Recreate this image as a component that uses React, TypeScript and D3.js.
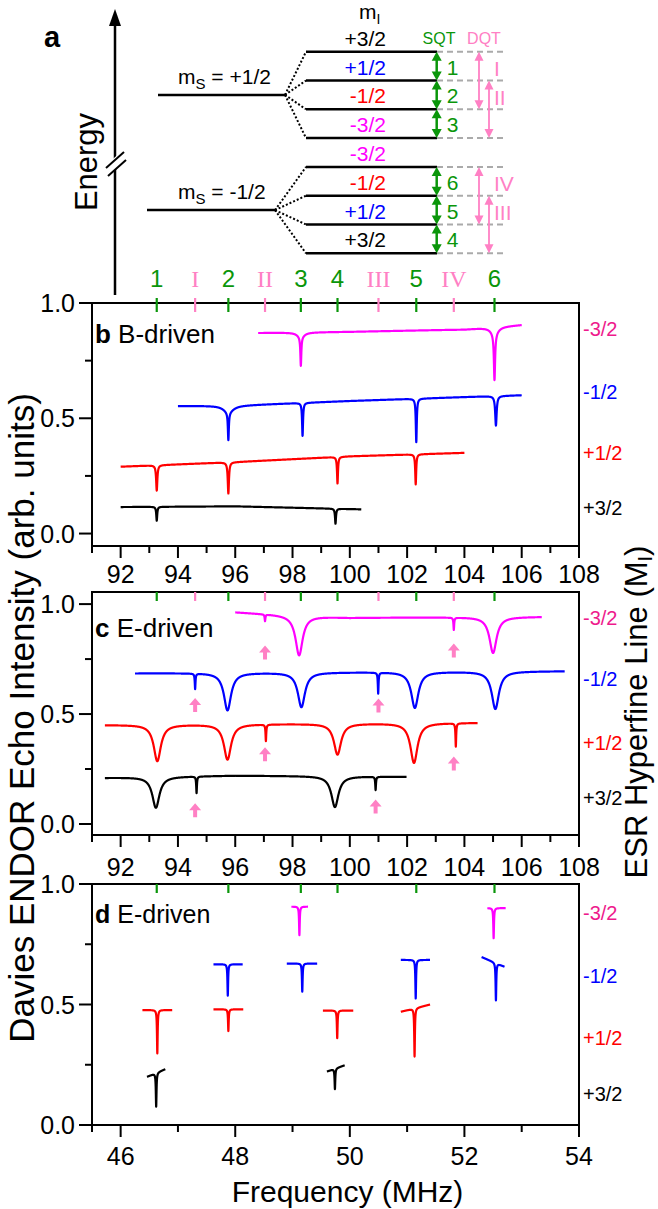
import React from "react";
import * as d3 from "d3";

const W = 658;
const H = 1209;
const FONT = "'Liberation Sans', Arial, Helvetica, sans-serif";
const SERIF = "'Liberation Serif', 'Times New Roman', serif";

// ---------- categories / labels ----------
const MI_ORDER = ["+3/2", "+1/2", "-1/2", "-3/2"];
const MI_COLOR: Record<string, string> = { "+3/2": "#000000", "+1/2": "#ff0000", "-1/2": "#0000ff", "-3/2": "#ff00ff" };
const SIDE_COLOR: Record<string, string> = { "+3/2": "#000000", "+1/2": "#ff0000", "-1/2": "#0000ff", "-3/2": "#ee1a8c" };
const LEVEL_COLOR: Record<string, string> = { "+3/2": "#000000", "+1/2": "#0000ff", "-1/2": "#ff0000", "-3/2": "#ff00ff" };

const SQT_FREQS = [93.26, 95.76, 98.29, 99.57, 102.32, 105.05];
const SQT_LABELS = ["1", "2", "3", "4", "5", "6"];
const DQT_FREQS = [94.6, 97.04, 101.0, 103.63];
const DQT_LABELS = ["I", "II", "III", "IV"];

const Y_MAJOR = [0, 0.5, 1.0];
const Y_MINOR = [0.25, 0.75];
const X_MAJOR_HI = [92, 94, 96, 98, 100, 102, 104, 106, 108];
const X_MINOR_HI = [91, 93, 95, 97, 99, 101, 103, 105, 107];
const X_MAJOR_LO = [46, 48, 50, 52, 54];
const X_MINOR_LO = [45.5, 47, 49, 51, 53];

// ---------- panel b (B-driven): baseline points [MHz, value], dips [centre, depth, hwhm] ----------
const B_P32_BASE = [[92.0, 0.115], [96.0, 0.118], [100.4, 0.105]];
const B_P32_DIPS = [[93.26, 0.06, 0.02], [99.5, 0.065, 0.02]];
const B_P12_BASE = [[92.0, 0.29], [94.0, 0.3], [96.0, 0.31], [100.0, 0.335], [104.0, 0.35]];
const B_P12_DIPS = [[93.26, 0.11, 0.025], [95.76, 0.135, 0.025], [99.57, 0.115, 0.02], [102.3, 0.13, 0.02]];
const B_M12_BASE = [[94.0, 0.553], [96.0, 0.555], [100.0, 0.575], [104.0, 0.592], [106.0, 0.6]];
const B_M12_DIPS = [[95.76, 0.12, 0.02], [95.76, 0.03, 0.2], [98.35, 0.143, 0.02], [102.32, 0.188, 0.02], [105.1, 0.128, 0.03]];
const B_M32_BASE = [[96.8, 0.87], [100.0, 0.875], [104.0, 0.885], [106.0, 0.905]];
const B_M32_DIPS = [[98.29, 0.125, 0.02], [98.29, 0.02, 0.15], [105.05, 0.2, 0.025], [105.05, 0.03, 0.15]];

// ---------- panel c (E-driven) ----------
const C_P32_BASE = [[91.45, 0.21], [96.0, 0.22], [101.98, 0.215]];
const C_P32_DIPS = [[93.23, 0.14, 0.15], [94.65, 0.075, 0.015], [99.48, 0.14, 0.15], [100.9, 0.06, 0.015]];
const C_P12_BASE = [[91.45, 0.45], [98.0, 0.455], [104.46, 0.46]];
const C_P12_DIPS = [[93.28, 0.165, 0.15], [95.73, 0.16, 0.15], [97.07, 0.075, 0.015], [99.57, 0.14, 0.15], [102.24, 0.18, 0.15], [103.7, 0.105, 0.015]];
const C_M12_BASE = [[92.5, 0.685], [100.0, 0.69], [107.5, 0.695]];
const C_M12_DIPS = [[94.6, 0.07, 0.015], [95.73, 0.17, 0.15], [98.31, 0.157, 0.15], [100.99, 0.095, 0.015], [102.27, 0.163, 0.15], [105.08, 0.17, 0.15]];
const C_M32_BASE = [[96.0, 0.963], [98.0, 0.948], [100.0, 0.938], [104.0, 0.94], [106.7, 0.942]];
const C_M32_DIPS = [[97.04, 0.03, 0.015], [98.23, 0.18, 0.15], [103.63, 0.055, 0.015], [105.0, 0.163, 0.15]];
const C_ARROW_FREQ = [97.04, 103.63, 94.6, 101.0, 97.04, 103.63, 94.6, 100.9];
const C_ARROW_Y = [0.78, 0.789, 0.541, 0.539, 0.317, 0.275, 0.062, 0.08];

// ---------- panel d (E-driven, half frequency): segments [start, end, baseStart, baseEnd] ----------
const D_P32_SEGS = [[46.46, 46.78, 0.2, 0.232], [49.6, 49.91, 0.222, 0.248]];
const D_P32_DIPS = [[46.62, 0.14, 0.007], [49.74, 0.085, 0.007]];
const D_P12_SEGS = [[46.38, 46.9, 0.477, 0.477], [47.62, 48.14, 0.48, 0.48], [49.53, 50.06, 0.475, 0.475], [50.89, 51.4, 0.47, 0.5]];
const D_P12_DIPS = [[46.64, 0.18, 0.007], [47.88, 0.09, 0.007], [49.78, 0.115, 0.007], [51.13, 0.2, 0.007]];
const D_M12_SEGS = [[47.62, 48.13, 0.667, 0.667], [48.9, 49.43, 0.67, 0.67], [50.89, 51.4, 0.685, 0.685], [52.3, 52.7, 0.697, 0.657]];
const D_M12_DIPS = [[47.87, 0.13, 0.007], [49.17, 0.117, 0.007], [51.15, 0.16, 0.007], [52.55, 0.155, 0.007]];
const D_M32_SEGS = [[48.98, 49.27, 0.906, 0.906], [52.4, 52.72, 0.9, 0.9]];
const D_M32_DIPS = [[49.12, 0.118, 0.007], [52.51, 0.125, 0.007]];

// side label heights (data units) in MI_ORDER
const B_SIDE_Y = [0.11, 0.35, 0.614, 0.89];
const C_SIDE_Y = [0.12, 0.37, 0.66, 0.937];
const D_SIDE_Y = [0.13, 0.36, 0.62, 0.88];

// panel a level diagram
const UPPER_MI = ["+3/2", "+1/2", "-1/2", "-3/2"];
const LOWER_MI = ["-3/2", "-1/2", "+1/2", "+3/2"];
const SQT_PAIRS = [[0, 1], [1, 2], [2, 3], [4, 5], [5, 6], [6, 7]];
const SQT_PAIR_LABELS = ["1", "2", "3", "6", "5", "4"];
const DQT_PAIRS = [[0, 2], [1, 3], [4, 6], [5, 7]];
const DQT_PAIR_LABELS = ["I", "II", "IV", "III"];

const GREEN = "#0a960a";
const PINK = "#ff80c4";

// ---------- scales ----------
const xHi = d3.scaleLinear().domain([91, 108]).range([92, 579]);
const xLo = d3.scaleLinear().domain([45.5, 54]).range([92, 579]);
const yB = d3.scaleLinear().domain([-0.054, 1]).range([546, 303]);
const yC = d3.scaleLinear().domain([-0.05, 1.055]).range([835, 592]);
const yD = d3.scaleLinear().domain([0, 1]).range([1125, 884]);
const levelY = d3.scaleLinear().domain([0, 7]).range([51.7, 253.3]);

function spectrum(base: number[][], dips: number[][], step: number): [number, number][] {
  const x0 = base[0][0];
  const x1 = base[base.length - 1][0];
  const baseAt = d3.scaleLinear().domain(base.map((p) => p[0])).range(base.map((p) => p[1]));
  const xs = d3.range(x0, x1, step).concat([x1]).concat(dips.map((d) => d[0]).filter((c) => c > x0 && c < x1));
  xs.sort((a, b) => a - b);
  return xs.map((x) => {
    let v = baseAt(x);
    for (const [c, depth, hw] of dips) v -= (depth * hw * hw) / ((x - c) * (x - c) + hw * hw);
    return [x, v] as [number, number];
  });
}

function segSpectra(segs: number[][], dips: number[][], step: number): [number, number][][] {
  return segs.map(([s, e, b0, b1]) => {
    const inside = dips.filter((d) => d[0] >= s && d[0] <= e);
    return spectrum([[s, b0], [e, b1]], inside, step);
  });
}

function Frame({ x, y, xMajor, xMinor, showXLabels, labelDy }: any) {
  const [x0, x1] = x.range();
  const [yb, yt] = y.range();
  return (
    <g>
      <rect x={x0} y={yt} width={x1 - x0} height={yb - yt} fill="none" stroke="#000" strokeWidth={2} />
      {Y_MAJOR.map((v) => (
        <g key={"ym" + v}>
          <line x1={x0 - 13} x2={x0} y1={y(v)} y2={y(v)} stroke="#000" strokeWidth={2} />
          <text x={x0 - 17} y={y(v)} dy="0.36em" textAnchor="end" fontSize={25}>{d3.format(".1f")(v)}</text>
        </g>
      ))}
      {Y_MINOR.map((v) => (
        <line key={"yn" + v} x1={x0 - 7} x2={x0} y1={y(v)} y2={y(v)} stroke="#000" strokeWidth={2} />
      ))}
      {xMajor.map((v: number) => (
        <g key={"xm" + v}>
          <line x1={x(v)} x2={x(v)} y1={yb} y2={yb + 12} stroke="#000" strokeWidth={2} />
          {showXLabels && (
            <text x={x(v)} y={yb + labelDy} textAnchor="middle" fontSize={25}>{v}</text>
          )}
        </g>
      ))}
      {xMinor.map((v: number) => (
        <line key={"xn" + v} x1={x(v)} x2={x(v)} y1={yb} y2={yb + 7} stroke="#000" strokeWidth={2} />
      ))}
    </g>
  );
}

function Traces({ x, y, series, sw }: any) {
  const line = d3.line<[number, number]>().x((d) => x(d[0])).y((d) => y(d[1]));
  return (
    <g>
      {series.map((s: any, i: number) => (
        <path key={i} d={line(s.pts) || ""} fill="none" stroke={MI_COLOR[s.mi]} strokeWidth={sw} strokeLinejoin="round" />
      ))}
    </g>
  );
}

function SideLabels({ y, vals }: any) {
  return (
    <g>
      {MI_ORDER.map((mi, i) => (
        <text key={mi} x={583} y={y(vals[i])} dy="0.36em" fontSize={20} fill={SIDE_COLOR[mi]}>{mi}</text>
      ))}
    </g>
  );
}

function TransitionTicks({ yTop, y1, y2, sqtOnly }: any) {
  return (
    <g>
      {SQT_FREQS.map((f) => (
        <line key={"s" + f} x1={xHi(f)} x2={xHi(f)} y1={yTop + y1} y2={yTop + y2} stroke={GREEN} strokeWidth={2.2} />
      ))}
      {!sqtOnly &&
        DQT_FREQS.map((f) => (
          <line key={"d" + f} x1={xHi(f)} x2={xHi(f)} y1={yTop + y1} y2={yTop + y2} stroke={PINK} strokeWidth={2.2} />
        ))}
    </g>
  );
}

function vArrow(xc: number, ya: number, yb: number, hl: number, hw: number, color: string, sw: number, key: string) {
  return (
    <g key={key}>
      <line x1={xc} x2={xc} y1={ya + hl - 1} y2={yb - hl + 1} stroke={color} strokeWidth={sw} />
      <path d={`M${xc},${ya} L${xc - hw},${ya + hl} L${xc + hw},${ya + hl} Z`} fill={color} />
      <path d={`M${xc},${yb} L${xc - hw},${yb - hl} L${xc + hw},${yb - hl} Z`} fill={color} />
    </g>
  );
}

function PanelA() {
  const upperMsY = (levelY(0) + levelY(3)) / 2;
  const lowerMsY = (levelY(4) + levelY(7)) / 2;
  const lvlX0 = 306;
  const lvlX1 = 437;
  const dashX1 = 507;
  return (
    <g>
      <text x={44} y={47} fontSize={29} fontWeight="bold">a</text>
      {/* energy axis */}
      <line x1={115} x2={115} y1={22} y2={295} stroke="#000" strokeWidth={2.5} />
      <path d="M115,9 L109,26 L121,26 Z" fill="#000" />
      <polygon points="105,166 123,150 127,159 109,175" fill="#fff" />
      <line x1={106} y1={168} x2={124} y2={152} stroke="#000" strokeWidth={2} />
      <line x1={108} y1={176} x2={126} y2={160} stroke="#000" strokeWidth={2} />
      <text transform="translate(97,162) rotate(-90)" textAnchor="middle" fontSize={31}>Energy</text>

      {/* electron levels */}
      <line x1={158} x2={285} y1={upperMsY} y2={upperMsY} stroke="#000" strokeWidth={2.5} />
      <line x1={147} x2={275} y1={lowerMsY} y2={lowerMsY} stroke="#000" strokeWidth={2.5} />
      <text x={178} y={84} fontSize={21}>
        m<tspan dy={5} fontSize={15}>S</tspan>
        <tspan dy={-5}> = +1/2</tspan>
      </text>
      <text x={178} y={199} fontSize={21}>
        m<tspan dy={5} fontSize={15}>S</tspan>
        <tspan dy={-5}> = -1/2</tspan>
      </text>
      {[0, 1, 2, 3].map((k) => (
        <line key={"du" + k} x1={285} y1={upperMsY} x2={lvlX0} y2={levelY(k)} stroke="#000" strokeWidth={2} strokeDasharray="2,2" />
      ))}
      {[4, 5, 6, 7].map((k) => (
        <line key={"dl" + k} x1={275} y1={lowerMsY} x2={lvlX0} y2={levelY(k)} stroke="#000" strokeWidth={2} strokeDasharray="2,2" />
      ))}
      {d3.range(8).map((k) => (
        <g key={"lv" + k}>
          <line x1={lvlX0} x2={lvlX1} y1={levelY(k)} y2={levelY(k)} stroke="#000" strokeWidth={2.5} />
          <line x1={lvlX1} x2={dashX1} y1={levelY(k)} y2={levelY(k)} stroke="#aaaaaa" strokeWidth={2} strokeDasharray="6,4" />
        </g>
      ))}
      <text x={359} y={19} fontSize={21}>
        m<tspan dy={5} fontSize={14}>I</tspan>
      </text>
      {UPPER_MI.map((mi, i) => (
        <text key={"um" + i} x={386} y={levelY(i - 0.5) + 1} dy="0.36em" textAnchor="end" fontSize={21} fill={LEVEL_COLOR[mi]}>{mi}</text>
      ))}
      {LOWER_MI.map((mi, i) => (
        <text key={"lm" + i} x={386} y={levelY(i + 3.5) + 1} dy="0.36em" textAnchor="end" fontSize={21} fill={LEVEL_COLOR[mi]}>{mi}</text>
      ))}
      <text x={439} y={44} textAnchor="middle" fontSize={16} fill={GREEN}>SQT</text>
      <text x={484} y={44} textAnchor="middle" fontSize={16} fill={PINK}>DQT</text>
      {SQT_PAIRS.map(([a, b], i) => (
        <g key={"sq" + i}>
          {vArrow(436.7, levelY(a), levelY(b), 9, 5, GREEN, 2.5, "sqa" + i)}
          <text x={452.7} y={(levelY(a) + levelY(b)) / 2 + 1} dy="0.36em" textAnchor="middle" fontSize={21} fill={GREEN}>{SQT_PAIR_LABELS[i]}</text>
        </g>
      ))}
      {DQT_PAIRS.map(([a, b], i) => (
        <g key={"dq" + i}>
          {vArrow(i % 2 === 0 ? 479 : 489, levelY(a), levelY(b), 9, 4.5, PINK, 1.8, "dqa" + i)}
          <text x={494} y={levelY(a + 0.55) + 1} dy="0.36em" fontSize={21} fill={PINK}>{DQT_PAIR_LABELS[i]}</text>
        </g>
      ))}
    </g>
  );
}

export default function App() {
  const stepHi = 0.004;
  const stepLo = 0.0015;
  const bSeries = [
    { mi: "+3/2", pts: spectrum(B_P32_BASE, B_P32_DIPS, stepHi) },
    { mi: "+1/2", pts: spectrum(B_P12_BASE, B_P12_DIPS, stepHi) },
    { mi: "-1/2", pts: spectrum(B_M12_BASE, B_M12_DIPS, stepHi) },
    { mi: "-3/2", pts: spectrum(B_M32_BASE, B_M32_DIPS, stepHi) },
  ];
  const cSeries = [
    { mi: "+3/2", pts: spectrum(C_P32_BASE, C_P32_DIPS, stepHi) },
    { mi: "+1/2", pts: spectrum(C_P12_BASE, C_P12_DIPS, stepHi) },
    { mi: "-1/2", pts: spectrum(C_M12_BASE, C_M12_DIPS, stepHi) },
    { mi: "-3/2", pts: spectrum(C_M32_BASE, C_M32_DIPS, stepHi) },
  ];
  const dSeries = [
    ...segSpectra(D_P32_SEGS, D_P32_DIPS, stepLo).map((pts) => ({ mi: "+3/2", pts })),
    ...segSpectra(D_P12_SEGS, D_P12_DIPS, stepLo).map((pts) => ({ mi: "+1/2", pts })),
    ...segSpectra(D_M12_SEGS, D_M12_DIPS, stepLo).map((pts) => ({ mi: "-1/2", pts })),
    ...segSpectra(D_M32_SEGS, D_M32_DIPS, stepLo).map((pts) => ({ mi: "-3/2", pts })),
  ];

  return (
    <svg
      width={W}
      height={H}
      viewBox={`0 0 ${W} ${H}`}
      style={{ position: "absolute", left: 0, top: 0, display: "block", background: "#fff" }}
      fontFamily={FONT}
    >
      <rect x={0} y={0} width={W} height={H} fill="#fff" />
      <PanelA />

      {/* transition labels above panel b */}
      {SQT_FREQS.map((f, i) => (
        <text key={"sl" + i} x={xHi(f)} y={287} textAnchor="middle" fontSize={24} fill={GREEN}>{SQT_LABELS[i]}</text>
      ))}
      {DQT_FREQS.map((f, i) => (
        <text key={"dl" + i} x={xHi(f)} y={287} textAnchor="middle" fontSize={24} fill={PINK} fontFamily={SERIF}>{DQT_LABELS[i]}</text>
      ))}

      {/* panel b */}
      <Frame x={xHi} y={yB} xMajor={X_MAJOR_HI} xMinor={X_MINOR_HI} showXLabels labelDy={37} />
      <TransitionTicks yTop={303} y1={-5} y2={9} />
      <Traces x={xHi} y={yB} series={bSeries} sw={2.2} />
      <SideLabels y={yB} vals={B_SIDE_Y} />
      <text x={95} y={343} fontSize={26}>
        <tspan fontWeight="bold">b</tspan>
        <tspan> B-driven</tspan>
      </text>

      {/* panel c */}
      <Frame x={xHi} y={yC} xMajor={X_MAJOR_HI} xMinor={X_MINOR_HI} showXLabels labelDy={41} />
      <TransitionTicks yTop={592} y1={0} y2={9} />
      <Traces x={xHi} y={yC} series={cSeries} sw={2.2} />
      {C_ARROW_FREQ.map((f, i) => {
        const cx = xHi(f);
        const cy = yC(C_ARROW_Y[i]);
        return (
          <path
            key={"ar" + i}
            d={`M${cx},${cy - 7} L${cx - 6},${cy} L${cx - 2},${cy} L${cx - 2},${cy + 7} L${cx + 2},${cy + 7} L${cx + 2},${cy} L${cx + 6},${cy} Z`}
            fill={PINK}
          />
        );
      })}
      <SideLabels y={yC} vals={C_SIDE_Y} />
      <text x={95} y={637} fontSize={26}>
        <tspan fontWeight="bold">c</tspan>
        <tspan> E-driven</tspan>
      </text>

      {/* panel d */}
      <Frame x={xLo} y={yD} xMajor={X_MAJOR_LO} xMinor={X_MINOR_LO} showXLabels labelDy={40} />
      <TransitionTicks yTop={884} y1={0} y2={9} sqtOnly />
      <Traces x={xLo} y={yD} series={dSeries} sw={2.2} />
      <SideLabels y={yD} vals={D_SIDE_Y} />
      <text x={95} y={923} fontSize={25}>
        <tspan fontWeight="bold">d</tspan>
        <tspan> E-driven</tspan>
      </text>

      {/* axis titles */}
      <text x={(92 + 579) / 2 + 12} y={1202} textAnchor="middle" fontSize={30}>Frequency (MHz)</text>
      <text transform="translate(21,718) rotate(-90)" textAnchor="middle" dy="0.36em" fontSize={35}>
        Davies ENDOR Echo Intensity (arb. units)
      </text>
      <text transform="translate(636,712) rotate(-90)" textAnchor="middle" dy="0.36em" fontSize={31}>
        ESR Hyperfine Line (M<tspan dy={5} fontSize={20}>I</tspan>
        <tspan dy={-5}>)</tspan>
      </text>
    </svg>
  );
}
